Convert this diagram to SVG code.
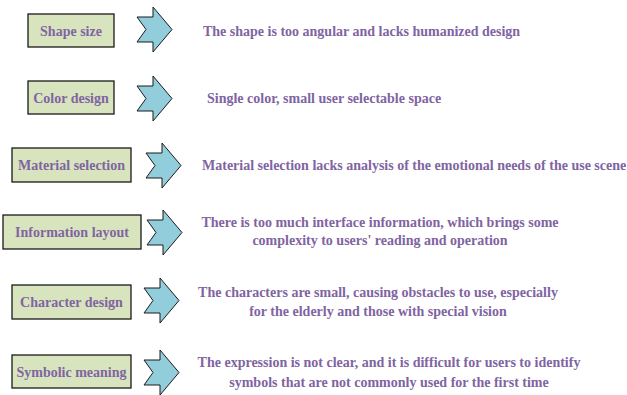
<svg xmlns="http://www.w3.org/2000/svg" width="627" height="395" viewBox="0 0 627 395">
<style>
.box{fill:#D7E4BD;stroke:#1a1a1a;stroke-width:1.3}
.arr{fill:#92CDDC;stroke:#1a1a1a;stroke-width:1}
.lbl{font-family:"Liberation Serif","Times New Roman",serif;font-weight:bold;font-size:14px;fill:#8064A2;text-anchor:middle}
.desc{font-family:"Liberation Serif","Times New Roman",serif;font-weight:bold;font-size:14px;fill:#8064A2}
.mid{text-anchor:middle}
</style>
<defs>
<path id="chev" d="M0,10 H16 V0 L35,22.5 L16,45 V35 H0 L9,22.5 Z"/>
</defs>
<rect width="627" height="395" fill="#fff"/>
<g id="node-shape-size">
<rect class="box" x="28" y="14" width="86" height="33"/>
<text class="lbl" x="71" y="35.5">Shape size</text>
</g>
<g id="node-color-design">
<rect class="box" x="28" y="81" width="86" height="33"/>
<text class="lbl" x="71" y="102.5">Color design</text>
</g>
<g id="node-material-selection">
<rect class="box" x="12" y="148" width="119" height="34"/>
<text class="lbl" x="71.5" y="170">Material selection</text>
</g>
<g id="node-information-layout">
<rect class="box" x="3" y="215" width="138" height="34"/>
<text class="lbl" x="72" y="237">Information layout</text>
</g>
<g id="node-character-design">
<rect class="box" x="12" y="285" width="119" height="34"/>
<text class="lbl" x="71.5" y="307">Character design</text>
</g>
<g id="node-symbolic-meaning">
<rect class="box" x="12" y="355" width="119" height="33"/>
<text class="lbl" x="71.5" y="376.5">Symbolic meaning</text>
</g>
<g id="connectors">
<use href="#chev" class="arr" x="137" y="7"/>
<use href="#chev" class="arr" x="137" y="76"/>
<use href="#chev" class="arr" x="146" y="143"/>
<use href="#chev" class="arr" x="147" y="210"/>
<use href="#chev" class="arr" x="144" y="278"/>
<use href="#chev" class="arr" x="144" y="350"/>
</g>
<g id="desc-shape-size">
<text class="desc" x="203" y="36">The shape is too angular and lacks humanized design</text>
</g>
<g id="desc-color-design">
<text class="desc" x="207" y="103">Single color, small user selectable space</text>
</g>
<g id="desc-material-selection">
<text class="desc" x="202" y="170">Material selection lacks analysis of the emotional needs of the use scene</text>
</g>
<g id="desc-information-layout">
<text class="desc mid" x="380" y="227">There is too much interface information, which brings some</text>
<text class="desc mid" x="380" y="245">complexity to users' reading and operation</text>
</g>
<g id="desc-character-design">
<text class="desc mid" x="378" y="297">The characters are small, causing obstacles to use, especially</text>
<text class="desc mid" x="378" y="316">for the elderly and those with special vision</text>
</g>
<g id="desc-symbolic-meaning">
<text class="desc mid" x="389" y="367">The expression is not clear, and it is difficult for users to identify</text>
<text class="desc mid" x="389" y="387">symbols that are not commonly used for the first time</text>
</g>
</svg>
